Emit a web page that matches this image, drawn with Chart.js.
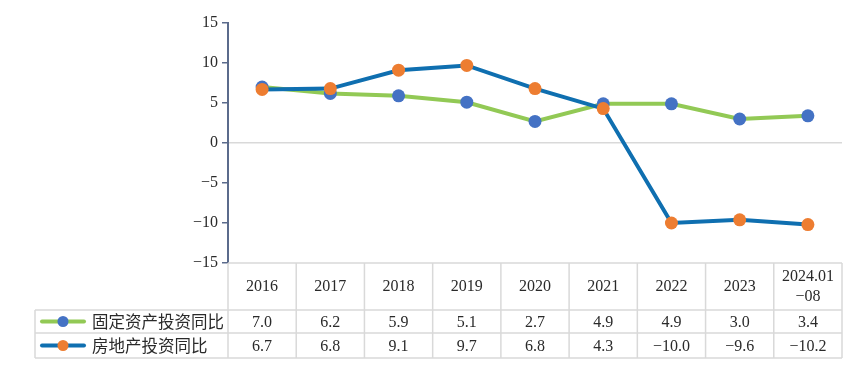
<!DOCTYPE html>
<html>
<head>
<meta charset="utf-8">
<script src="https://cdn.jsdelivr.net/npm/chart.js@4/dist/chart.umd.min.js"></script>
<style>
  html, body { margin: 0; padding: 0; background: #fff; }
  #wrap { width: 866px; height: 385px; }
</style>
</head>
<body>
<div id="wrap"><canvas id="chart"></canvas></div>
<script>
// chart data
const categories = ['2016', '2017', '2018', '2019', '2020', '2021', '2022', '2023', '2024.01\n-08'];
const fixedInvest = [7.0, 6.2, 5.9, 5.1, 2.7, 4.9, 4.9, 3.0, 3.4];
const estateInvest = [6.7, 6.8, 9.1, 9.7, 6.8, 4.3, -10.0, -9.6, -10.2];
const seriesNames = ['固定资产投资同比', '房地产投资同比'];
const yTicks = [-15, -10, -5, 0, 5, 10, 15];

const GREEN = '#92c955';
const BLUE_LINE = '#0f6fb0';
const BLUE_DOT = '#4472c4';
const ORANGE = '#ed7d31';
const GRID = '#d9d9d9';
const AXIS = '#5b6b8c';
const TEXT = '#2a2a2a';
const NUM_FONT = '16px "Liberation Serif", serif';
const CJK_FONT = '16.5px "Noto Sans CJK SC", sans-serif';

function fmt(v) {
  return v.toFixed(1).replace('-', '\u2212');
}

// draws the data table under the plot, aligned to the x scale
const dataTable = {
  id: 'dataTable',
  afterDraw(chart) {
    const ctx = chart.ctx;
    const xs = chart.scales.x;
    const area = chart.chartArea;
    const colW = (area.right - area.left) / categories.length;
    const top = area.bottom;
    const r1 = top + 47, r2 = r1 + 23, r3 = r2 + 25;
    const tableLeft = 35;

    ctx.save();
    ctx.strokeStyle = GRID;
    ctx.lineWidth = 1.5;
    ctx.beginPath();
    ctx.moveTo(area.left, top); ctx.lineTo(area.right, top);
    [r1, r2, r3].forEach(y => { ctx.moveTo(tableLeft, y); ctx.lineTo(area.right, y); });
    ctx.moveTo(tableLeft, r1); ctx.lineTo(tableLeft, r3);
    for (let i = 0; i <= categories.length; i++) {
      const x = area.left + i * colW;
      ctx.moveTo(x, top); ctx.lineTo(x, r3);
    }
    ctx.stroke();

    ctx.fillStyle = TEXT;
    ctx.textAlign = 'center';
    ctx.textBaseline = 'middle';
    ctx.font = NUM_FONT;
    categories.forEach((c, i) => {
      const x = xs.getPixelForValue(i);
      const lines = c.split('\n');
      const mid = (top + r1) / 2;
      lines.forEach((t, j) => {
        const y = mid + (j - (lines.length - 1) / 2) * 20;
        ctx.fillText(t.replace('-', '\u2212'), x, y);
      });
      ctx.fillText(fmt(fixedInvest[i]), x, (r1 + r2) / 2 + 1);
      ctx.fillText(fmt(estateInvest[i]), x, (r2 + r3) / 2 + 1);
    });

    // legend keys
    const keys = [
      { y: (r1 + r2) / 2, line: GREEN, dot: BLUE_DOT, name: seriesNames[0] },
      { y: (r2 + r3) / 2, line: BLUE_LINE, dot: ORANGE, name: seriesNames[1] }
    ];
    keys.forEach(k => {
      ctx.strokeStyle = k.line;
      ctx.lineWidth = 4;
      ctx.lineCap = 'round';
      ctx.beginPath();
      ctx.moveTo(42, k.y); ctx.lineTo(84, k.y);
      ctx.stroke();
      ctx.fillStyle = k.dot;
      ctx.beginPath();
      ctx.arc(63, k.y, 5.5, 0, Math.PI * 2);
      ctx.fill();
      ctx.fillStyle = TEXT;
      ctx.font = CJK_FONT;
      ctx.textAlign = 'left';
      ctx.fillText(k.name, 92, k.y);
    });
    ctx.restore();
  }
};

new Chart(document.getElementById('chart'), {
  type: 'line',
  data: {
    labels: categories,
    datasets: [
      {
        label: seriesNames[0],
        data: fixedInvest,
        borderColor: GREEN,
        borderWidth: 4,
        pointBackgroundColor: BLUE_DOT,
        pointBorderWidth: 0,
        pointRadius: 6.5,
        order: 1
      },
      {
        label: seriesNames[1],
        data: estateInvest,
        borderColor: BLUE_LINE,
        borderWidth: 4,
        pointBackgroundColor: ORANGE,
        pointBorderWidth: 0,
        pointRadius: 6.5,
        order: 0
      }
    ]
  },
  options: {
    responsive: true,
    maintainAspectRatio: false,
    animation: false,
    layout: { padding: { top: 23, right: 24, bottom: 122, left: 0 } },
    plugins: { legend: { display: false }, tooltip: { enabled: false } },
    scales: {
      x: { display: false, offset: true },
      y: {
        min: -15,
        max: 15,
        afterFit: s => { s.width = 228; },
        afterBuildTicks: s => { s.ticks = yTicks.map(v => ({ value: v })); },
        border: { color: AXIS, width: 2 },
        grid: {
          color: c => (c.tick && c.tick.value === 0 ? GRID : 'transparent'),
          lineWidth: 1.5,
          tickColor: AXIS,
          tickLength: 6
        },
        ticks: {
          color: TEXT,
          padding: 4,
          font: { family: '"Liberation Serif", serif', size: 16 },
          callback: v => String(v).replace('-', '\u2212')
        }
      }
    }
  },
  plugins: [dataTable]
});
</script>
</body>
</html>
